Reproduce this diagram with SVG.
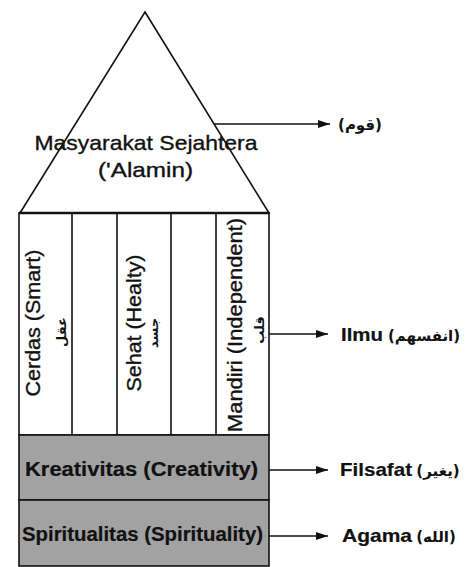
<svg xmlns="http://www.w3.org/2000/svg" width="471" height="567" viewBox="0 0 471 567">
<style>
.ln{fill:none;stroke:#111;stroke-width:1.6}
.box{fill:#a2a2a2;stroke:#111;stroke-width:1.6}
.t{font-family:"Liberation Sans",Arial,sans-serif;fill:#111;stroke:#111;stroke-width:0.35}
.b{font-weight:bold;stroke-width:0.2}
.ar{font-family:"DejaVu Sans","Noto Sans",sans-serif;fill:#111;font-weight:bold}
.cn{stroke:#111;stroke-width:1.6;fill:none}
</style>
<defs>
<marker id="ah" markerWidth="12" markerHeight="8" refX="12" refY="4" orient="auto" markerUnits="userSpaceOnUse">
<path d="M0,0 L12,4 L0,8 Z" fill="#111"/>
</marker>
</defs>
<rect width="471" height="567" fill="#fff"/>
<g id="triangle">
<polygon class="ln" points="145,12 269,213 20,213"/>
<text class="t" x="146" y="150" font-size="21" text-anchor="middle" textLength="223" lengthAdjust="spacingAndGlyphs">Masyarakat Sejahtera</text>
<text class="t" x="145.5" y="177" font-size="21" text-anchor="middle" textLength="95" lengthAdjust="spacingAndGlyphs">('Alamin)</text>
</g>
<g id="columns">
<rect class="ln" x="19" y="213" width="250" height="222"/>
<line x1="19" y1="213" x2="269" y2="213" stroke="#111" stroke-width="2.6"/>
<line class="ln" x1="72" y1="213" x2="72" y2="435"/>
<line class="ln" x1="117" y1="213" x2="117" y2="435"/>
<line class="ln" x1="171" y1="213" x2="171" y2="435"/>
<line class="ln" x1="216" y1="213" x2="216" y2="435"/>
<g id="cerdas">
<text class="t" transform="translate(40,323) rotate(-90)" font-size="20" text-anchor="middle" textLength="147" lengthAdjust="spacingAndGlyphs">Cerdas (Smart)</text>
<text class="ar" transform="translate(66,332) rotate(-90)" font-size="13" text-anchor="middle">عقل</text>
</g>
<g id="sehat">
<text class="t" transform="translate(141,323) rotate(-90)" font-size="20" text-anchor="middle" textLength="137" lengthAdjust="spacingAndGlyphs">Sehat (Healty)</text>
<text class="ar" transform="translate(158,333) rotate(-90)" font-size="13" text-anchor="middle">جسد</text>
</g>
<g id="mandiri">
<text class="t" transform="translate(242,325) rotate(-90)" font-size="20" text-anchor="middle" textLength="214" lengthAdjust="spacingAndGlyphs">Mandiri (Independent)</text>
<text class="ar" transform="translate(264,330) rotate(-90)" font-size="13" text-anchor="middle">قلب</text>
</g>
</g>
<g id="kreativitas">
<rect class="box" x="19" y="435" width="250" height="65"/>
<text class="t b" x="141.5" y="476" font-size="20" text-anchor="middle" textLength="233" lengthAdjust="spacingAndGlyphs">Kreativitas (Creativity)</text>
</g>
<g id="spiritualitas">
<rect class="box" x="19" y="500" width="250" height="66"/>
<text class="t b" x="142.5" y="541" font-size="20" text-anchor="middle" textLength="241" lengthAdjust="spacingAndGlyphs">Spiritualitas (Spirituality)</text>
</g>
<g id="connectors">
<line class="cn" x1="214" y1="124" x2="330" y2="124" marker-end="url(#ah)"/>
<line class="cn" x1="269" y1="334" x2="328" y2="334" marker-end="url(#ah)"/>
<line class="cn" x1="269" y1="470" x2="328" y2="470" marker-end="url(#ah)"/>
<line class="cn" x1="269" y1="536" x2="328" y2="536" marker-end="url(#ah)"/>
</g>
<g id="label-qaum">
<text class="ar" x="360" y="130" font-size="15" text-anchor="middle">(قوم)</text>
</g>
<g id="label-ilmu">
<text class="t b" x="341" y="341" font-size="19" textLength="42" lengthAdjust="spacingAndGlyphs">Ilmu</text>
<text class="ar" x="424" y="341" font-size="15" text-anchor="middle">(انفسهم)</text>
</g>
<g id="label-filsafat">
<text class="t b" x="340" y="476" font-size="19" textLength="72" lengthAdjust="spacingAndGlyphs">Filsafat</text>
<text class="ar" x="438" y="476" font-size="15" text-anchor="middle">(يغير)</text>
</g>
<g id="label-agama">
<text class="t b" x="342" y="542" font-size="19" textLength="70" lengthAdjust="spacingAndGlyphs">Agama</text>
<text class="ar" x="436" y="542" font-size="15" text-anchor="middle">(الله)</text>
</g>
</svg>
